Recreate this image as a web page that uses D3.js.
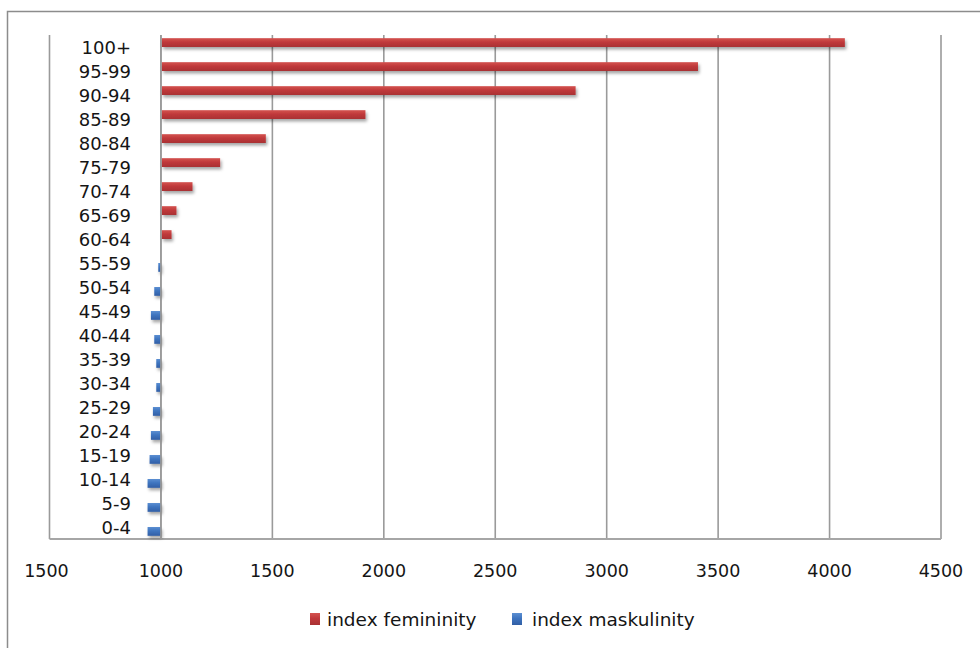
<!DOCTYPE html>
<html>
<head>
<meta charset="utf-8">
<script src="https://cdn.jsdelivr.net/npm/d3@7"></script>
<style>
  html, body { margin: 0; padding: 0; background: #fff; }
  svg { display: block; }
  text { font-family: "DejaVu Sans", Verdana, sans-serif; fill: #151515; }
</style>
</head>
<body>
<svg id="chart" width="980" height="648"></svg>
<script>
// ---- data (bottom-up, as in the source table) ----
const ageGroups = ["0-4","5-9","10-14","15-19","20-24","25-29","30-34","35-39","40-44","45-49","50-54","55-59","60-64","65-69","70-74","75-79","80-84","85-89","90-94","95-99","100+"];
const femininity = [null,null,null,null,null,null,null,null,null,null,null,null,1044,1066,1138,1262,1467,1914,2857,3406,4065];
const masculinity = [1060,1060,1060,1051,1045,1036,1021,1021,1030,1045,1030,1012,null,null,null,null,null,null,null,null,null];
const tickValues = [500,1000,1500,2000,2500,3000,3500,4000,4500];
const tickLabels = ["1500","1000","1500","2000","2500","3000","3500","4000","4500"];
const seriesNames = ["index femininity","index maskulinity"];
const seriesKeys = ["fem","masc"];

const svg = d3.select("#chart");

// defs: gradients & shadow
const defs = svg.append("defs");
function grad(id, c1, c2, c3) {
  const g = defs.append("linearGradient").attr("id", id).attr("x1",0).attr("y1",0).attr("x2",0).attr("y2",1);
  g.append("stop").attr("offset","0%").attr("stop-color",c1);
  g.append("stop").attr("offset","45%").attr("stop-color",c2);
  g.append("stop").attr("offset","100%").attr("stop-color",c3);
}
grad("gRed", "#d4534f", "#c0393b", "#a93133");
grad("gBlue", "#5c8fd2", "#3e74bf", "#315fa5");
const f = defs.append("filter").attr("id","shadow").attr("x","-10%").attr("y","-50%").attr("width","130%").attr("height","250%");
f.append("feDropShadow").attr("dx",1.5).attr("dy",2.5).attr("stdDeviation",1.4).attr("flood-color","#000").attr("flood-opacity",0.35);

const fills = {fem: "url(#gRed)", masc: "url(#gBlue)"};

// outer frame (top + left visible)
svg.append("path").attr("d","M7.5,648 V11.5 H980").attr("fill","none").attr("stroke","#8c8c8c").attr("stroke-width",1.5);

// scales
const x = d3.scaleLinear().domain([500, 4500]).range([49.5, 941]);
// mirrored scale for masculinity: grows to the left from 1000
const xm = d3.scaleLinear().domain([1000, 1500]).range([x(1000), x(500)]);
const y = d3.scaleBand().domain(ageGroups.slice().reverse()).range([35, 539]).padding(0);
const ySub = d3.scaleBand().domain(seriesKeys).range([0, y.bandwidth()]).paddingInner(0).paddingOuter(0.36);

// gridlines
svg.append("g").selectAll("line").data(tickValues).join("line")
  .attr("x1", d => x(d)).attr("x2", d => x(d))
  .attr("y1", 35).attr("y2", 539)
  .attr("stroke", "#9a9a9a").attr("stroke-width", 1.6);
// bottom border
svg.append("line").attr("x1", x(500)).attr("x2", x(4500)).attr("y1", 539).attr("y2", 539)
  .attr("stroke", "#a6a6a6").attr("stroke-width", 1.8);

// bars
const rows = ageGroups.map((a, i) => ({age: a, fem: femininity[i], masc: masculinity[i]}));
const barsG = svg.append("g").attr("filter","url(#shadow)");
barsG.selectAll("rect.fem").data(rows.filter(d => d.fem != null)).join("rect")
  .attr("class","fem")
  .attr("x", x(1000) + 0.8)
  .attr("y", d => y(d.age) + ySub("fem"))
  .attr("width", d => x(d.fem) - x(1000))
  .attr("height", ySub.bandwidth())
  .attr("fill", fills.fem);
barsG.selectAll("rect.masc").data(rows.filter(d => d.masc != null)).join("rect")
  .attr("class","masc")
  .attr("x", d => xm(d.masc))
  .attr("y", d => y(d.age) + ySub("masc"))
  .attr("width", d => xm(1000) - xm(d.masc))
  .attr("height", ySub.bandwidth())
  .attr("fill", fills.masc);

// category axis line at 1000 on top
svg.append("line").attr("x1", x(1000)).attr("x2", x(1000)).attr("y1", 35).attr("y2", 539)
  .attr("stroke", "#9a9a9a").attr("stroke-width", 1.6);

// category labels
svg.append("g").selectAll("text").data(ageGroups).join("text")
  .attr("x", 131)
  .attr("y", d => y(d) + y.bandwidth() / 2 + 7)
  .attr("text-anchor", "end")
  .attr("font-size", "18px")
  .text(d => d);

// value axis labels
svg.append("g").selectAll("text").data(tickValues).join("text")
  .attr("x", (d, i) => x(d) + (i === 0 ? -3 : 0))
  .attr("y", 577)
  .attr("text-anchor", "middle")
  .attr("font-size", "17.5px")
  .text((d, i) => tickLabels[i]);

// legend
const legendPos = [{sx: 310, tx: 327}, {sx: 512, tx: 532}];
const leg = svg.append("g");
seriesKeys.forEach((k, i) => {
  leg.append("rect").attr("x", legendPos[i].sx).attr("y", 613).attr("width", 10).attr("height", 12).attr("fill", fills[k]);
  leg.append("text").attr("x", legendPos[i].tx).attr("y", 626).attr("font-size", "18.5px").text(seriesNames[i]);
});
</script>
</body>
</html>
